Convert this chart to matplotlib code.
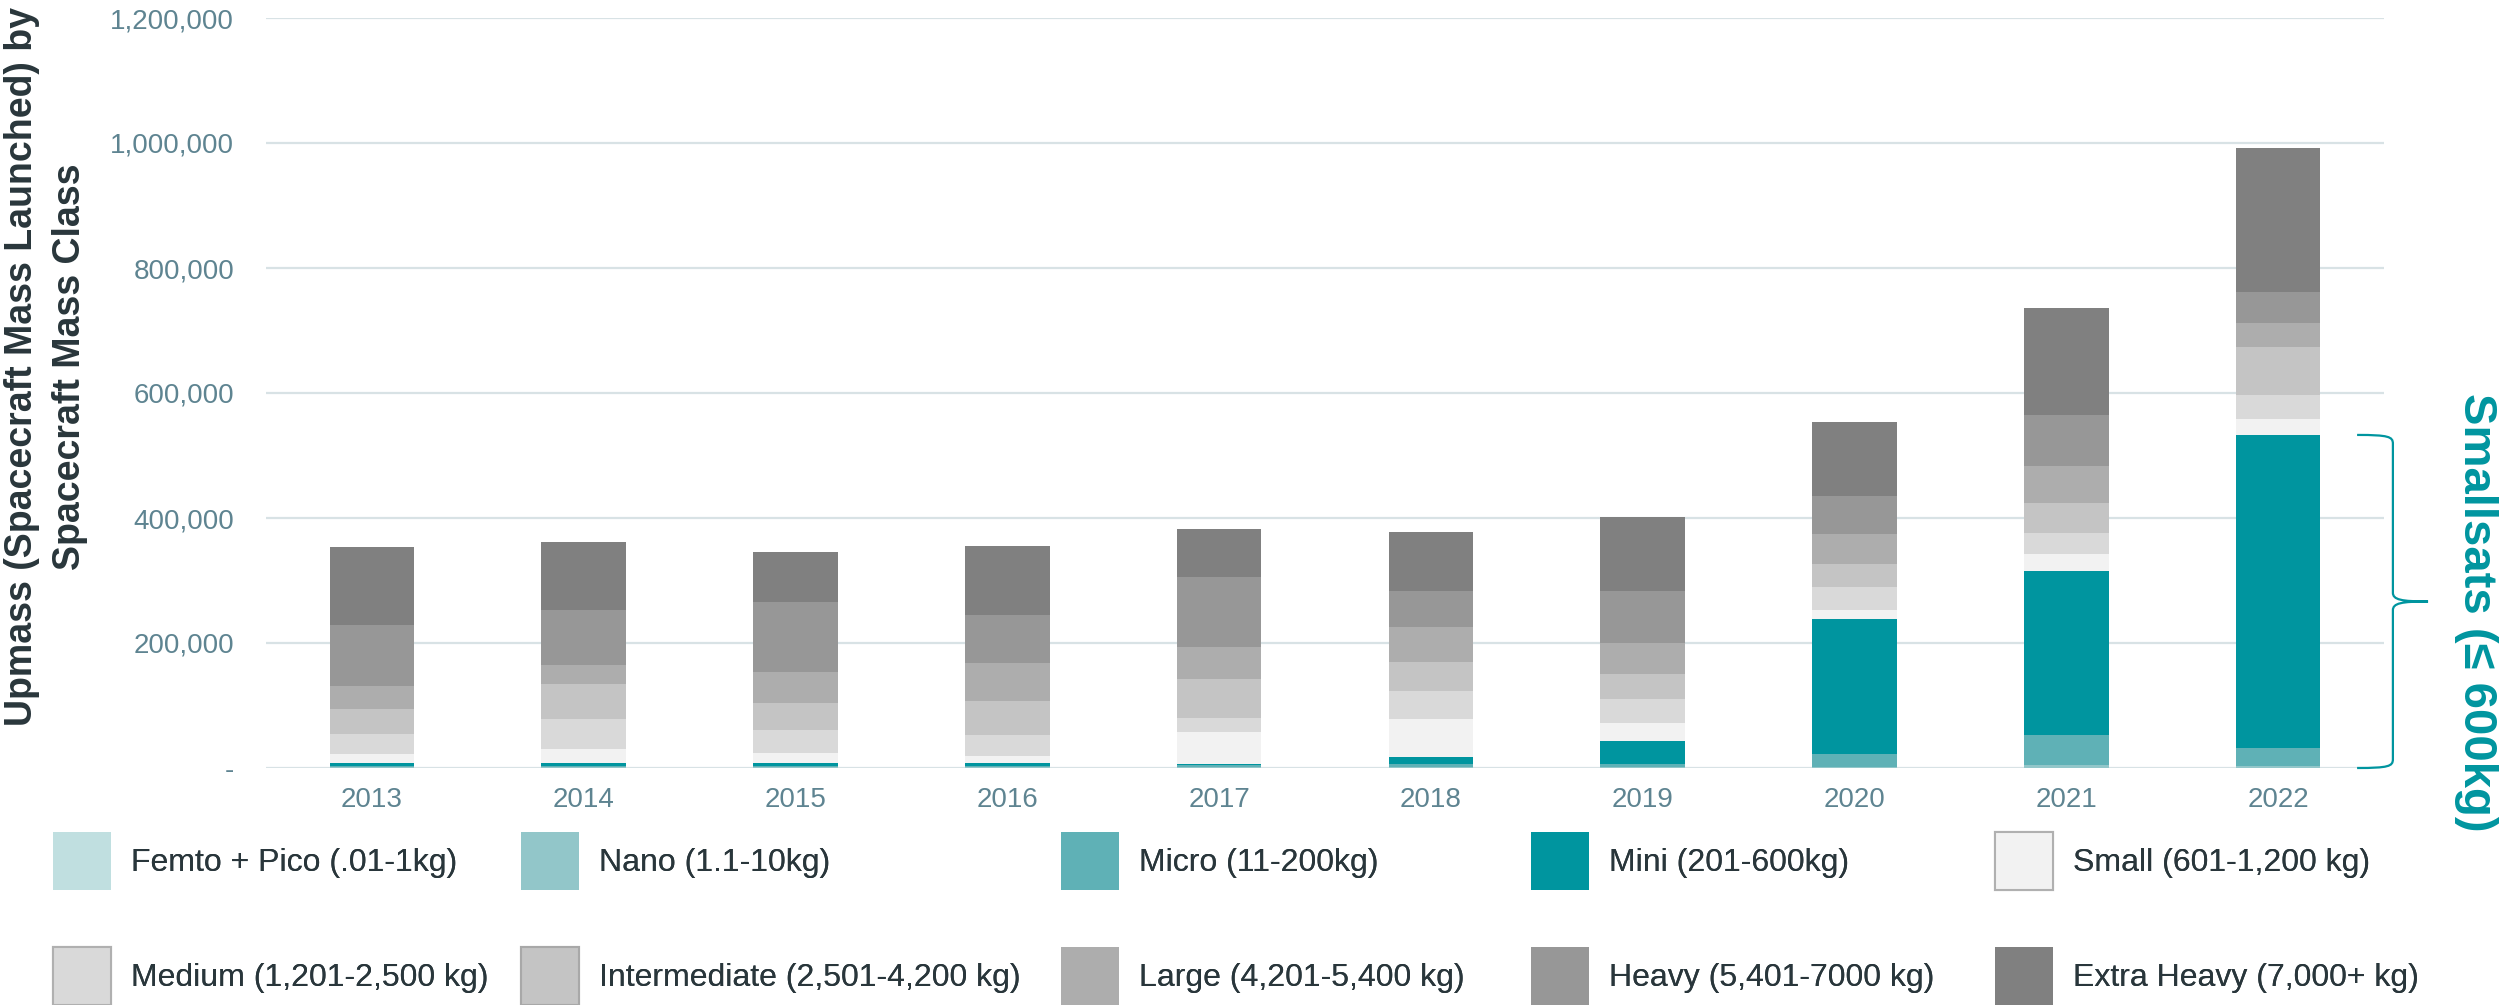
import matplotlib
matplotlib.use("Agg")
import matplotlib.pyplot as plt
from matplotlib.patches import Patch, PathPatch
from matplotlib.path import Path
from matplotlib.ticker import FuncFormatter
import matplotlib.transforms as mtransforms
import numpy as np

plt.rcParams['font.family'] = ['Liberation Sans', 'DejaVu Sans']

# ---------------- data ----------------
years = ["2013", "2014", "2015", "2016", "2017", "2018", "2019", "2020", "2021", "2022"]

class_labels = [
    "Femto + Pico (.01-1kg)", "Nano (1.1-10kg)", "Micro (11-200kg)", "Mini (201-600kg)",
    "Small (601-1,200 kg)", "Medium (1,201-2,500 kg)", "Intermediate (2,501-4,200 kg)",
    "Large (4,201-5,400 kg)", "Heavy (5,401-7000 kg)", "Extra Heavy (7,000+ kg)",
]

femto_pico   = [100, 150, 100, 200, 300, 200, 200, 300, 500, 400]
nano         = [800, 900, 800, 1200, 1800, 1500, 1500, 2000, 4500, 3000]
micro        = [2500, 2500, 2800, 2500, 2500, 5000, 5000, 19500, 48000, 28000]
mini         = [4500, 4000, 4500, 3500, 2500, 11200, 36800, 216000, 262000, 501500]
small        = [14500, 22900, 16300, 11300, 50500, 60500, 28500, 15800, 27100, 25000]
medium       = [32000, 48000, 36300, 34100, 22400, 44800, 38400, 35700, 34300, 38500]
intermediate = [40000, 56000, 42700, 54400, 62400, 46400, 40000, 37100, 47200, 77200]
large        = [36300, 30400, 50100, 61300, 50700, 56500, 49600, 47900, 59300, 37800]
heavy        = [98100, 88000, 112000, 75800, 112500, 57100, 83200, 61400, 81400, 50000]
extra_heavy  = [124800, 108300, 80000, 111400, 76800, 94400, 118400, 118600, 172100, 230000]

series = [femto_pico, nano, micro, mini, small, medium, intermediate, large, heavy, extra_heavy]

colors = ["#c0dfe0", "#92c6c9", "#5fb1b6", "#00959f", "#f2f2f2",
          "#d9d9d9", "#c4c4c4", "#adadad", "#979797", "#808080"]
legend_edges = [None, None, None, None, "#b0b0b0", "#b0b0b0", "#a8a8a8", None, None, None]

y_ticks = [0, 200000, 400000, 600000, 800000, 1000000, 1200000]

# ---------------- figure ----------------
W, H = 2504, 1005
fig = plt.figure(figsize=(W / 100, H / 100), dpi=100)
ax = fig.add_axes([266 / W, 1 - 768 / H, (2384 - 266) / W, (768 - 18) / H])

x = np.arange(len(years))
bottom = np.zeros(len(years))
for vals, col in zip(series, colors):
    ax.bar(x, vals, width=0.4, bottom=bottom, color=col, edgecolor='none', zorder=3)
    bottom += np.array(vals)

ax.set_xlim(-0.5, len(years) - 0.5)
ax.set_ylim(0, 1200000)
ax.set_yticks(y_ticks)
ax.yaxis.set_major_formatter(FuncFormatter(lambda v, p: "-" if v == 0 else f"{int(v):,}"))
ax.set_xticks(x)
ax.set_xticklabels(years)

tick_col = "#5e8491"
ax.tick_params(axis='y', length=0, pad=23, labelsize=20, labelcolor=tick_col)
ax.tick_params(axis='x', length=0, pad=14, labelsize=20, labelcolor=tick_col)
for s in ax.spines.values():
    s.set_visible(False)
ax.yaxis.grid(True, color="#d8e2e5", linewidth=1.6, zorder=0)
ax.set_axisbelow(True)

# y label
fig.text(46 / W, 1 - 367 / H, "Upmass (Spacecraft Mass Launched) by\nSpacecraft Mass Class",
         rotation=90, ha='center', va='center', ma='center', fontsize=27,
         fontweight='bold', color="#29363b", linespacing=1.4)

# brace for smallsats in 2022
teal = "#00959f"
top = sum(s[-1] for s in series[:4])
mid = top / 2.0
trans = mtransforms.blended_transform_factory(ax.transAxes, ax.transData)
x0, x1, x2 = 0.9873, 1.0042, 1.0208
d = 14000
verts = [
    (x0, top), (x1 - 0.002, top), (x1, top - d * 0.2), (x1, top - d),
    (x1, mid + d),
    (x1, mid + d * 0.2), (x1 + 0.004, mid), (x2, mid),
    (x1 + 0.004, mid), (x1, mid - d * 0.2), (x1, mid - d),
    (x1, d),
    (x1, d * 0.2), (x1 - 0.002, 0), (x0, 0),
]
codes = [Path.MOVETO, Path.CURVE4, Path.CURVE4, Path.CURVE4,
         Path.LINETO,
         Path.CURVE4, Path.CURVE4, Path.CURVE4,
         Path.CURVE4, Path.CURVE4, Path.CURVE4,
         Path.LINETO,
         Path.CURVE4, Path.CURVE4, Path.CURVE4]
brace = PathPatch(Path(verts, codes), transform=trans, fill=False,
                  edgecolor=teal, linewidth=1.6, clip_on=False, zorder=5)
ax.add_patch(brace)

fig.text(2476 / W, 1 - 612 / H, "Smallsats (≤ 600kg)", rotation=-90, ha='center', va='center',
         fontsize=34, fontweight='bold', color=teal)

# legend: 5 columns x 2 rows
col_x = [53, 521, 1061, 1531, 1995]
handles = [Patch(facecolor=c, edgecolor=(e if e else c), linewidth=1.5 if e else 0)
           for c, e in zip(colors, legend_edges)]
for ci in range(5):
    hs = [handles[ci], handles[ci + 5]]
    ls = [class_labels[ci], class_labels[ci + 5]]
    leg = fig.legend(hs, ls, loc='upper left', bbox_to_anchor=(col_x[ci] / W, 1 - 832 / H),
                     bbox_transform=fig.transFigure, frameon=False, borderpad=0,
                     borderaxespad=0, handlelength=1.82, handleheight=2.42,
                     handletextpad=0.63, labelspacing=1.78, fontsize=23)
    for t in leg.get_texts():
        t.set_color("#29363b")
    fig.add_artist(leg)

fig.savefig("out.png", dpi=100)
